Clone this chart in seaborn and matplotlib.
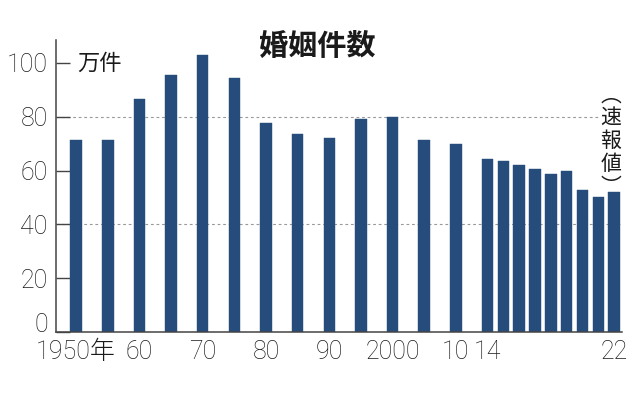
import pandas as pd
import numpy as np
import matplotlib
matplotlib.use('Agg')
import matplotlib.pyplot as plt
import seaborn as sns

# 婚姻件数 (万件)
years = [1950, 1955, 1960, 1965, 1970, 1975, 1980, 1985, 1990, 1995, 2000, 2005, 2010,
         2014, 2015, 2016, 2017, 2018, 2019, 2020, 2021, 2022]
marriages = [71.5, 71.5, 86.6, 95.5, 102.9, 94.2, 77.5, 73.6, 72.2, 79.2, 79.8, 71.4, 70.0,
             64.4, 63.5, 62.1, 60.7, 58.6, 59.9, 52.6, 50.1, 52.0]
tick_years = [1950, 1960, 1970, 1980, 1990, 2000, 2010, 2014, 2022]
tick_labels = ['1950年', '60', '70', '80', '90', '2000', '10', '14', '22']


def slot(y):
    # 5-year steps up to 2010 take two slots, yearly steps afterwards take one
    if y <= 2010:
        return (y - 1950) / 5 * 2
    return 26 + (y - 2014)


df = pd.DataFrame({'pos': [slot(y) for y in years], 'value': marriages})

sns.set_style('white')
cjk = ['Noto Sans CJK JP', 'DejaVu Sans']
num_font = ['Roboto', 'Noto Sans CJK JP', 'DejaVu Sans']
plt.rcParams['font.family'] = cjk

fig = plt.figure(figsize=(6.38, 3.96), dpi=100)
ax = fig.add_axes([0.0878, 0.1616, 0.8872, 0.7374])

ax.axhline(80, xmin=0, xmax=0.958, color='#999999', lw=0.8, ls=(0, (2.5, 2.5)), zorder=0)
ax.axhline(40, xmin=0, xmax=1.0, color='#999999', lw=0.8, ls=(0, (2.5, 2.5)), zorder=0)

sns.barplot(data=df, x='pos', y='value', native_scale=True, width=0.73,
            color='#264c7c', saturation=1, edgecolor='#264c7c', linewidth=0.3, ax=ax, zorder=2)

ax.set_xlim(-1.27, 34.5)
ax.set_ylim(0, 108.5)
ax.set_xlabel('')
ax.set_ylabel('')

ax.set_yticks([0, 20, 40, 60, 80, 100])
ax.set_yticklabels(['0', '20', '40', '60', '80', '100'], fontfamily=num_font,
                   fontweight='light', fontsize=18, color='#1a1a1a')
ax.get_yticklabels()[0].set_va('baseline')
ax.set_xticks([slot(y) for y in tick_years])
ax.set_xticklabels(tick_labels, fontfamily=num_font, fontweight='light', fontsize=18, color='#1a1a1a')
ax.tick_params(axis='y', direction='in', length=10, width=1, color='#444444', pad=6, left=True)
ax.tick_params(axis='x', length=0, pad=6)

for s in ['top', 'right']:
    ax.spines[s].set_visible(False)
for s in ['left', 'bottom']:
    ax.spines[s].set_color('#444444')
    ax.spines[s].set_linewidth(1.1)

fig.text(0.498, 0.885, '婚姻件数', fontsize=21, fontweight='bold', ha='center', va='center',
         color='#1a1a1a', family=cjk)
ax.text(0.08, 100, '万件', fontsize=16, ha='left', va='center', color='#1a1a1a', family=cjk)
fig.text(0.957, 0.644, '︵\n速\n報\n値\n︶', fontsize=15, ha='center', va='center',
         linespacing=1.05, multialignment='center', color='#1a1a1a', family=cjk)

plt.savefig('out.png', dpi=100)
